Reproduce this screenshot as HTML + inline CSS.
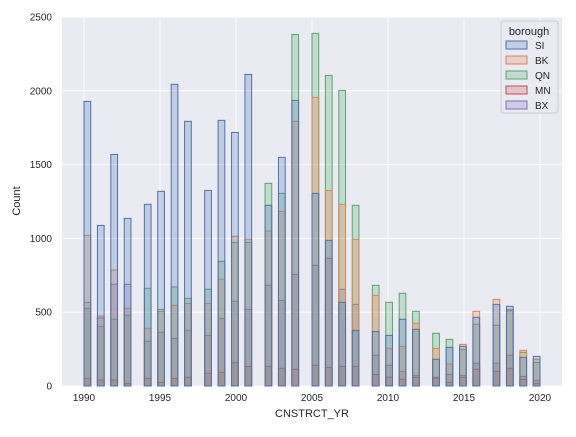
<!DOCTYPE html>
<html><head><meta charset="utf-8"><style>
body{margin:0;background:#fff;}
svg text{font-family:"Liberation Sans",Arial,sans-serif;fill:#262626;}
</style></head><body>
<svg id="chart" width="576" height="432" viewBox="0 0 576 432">
<rect x="62" y="17" width="500" height="369" fill="#eaeaf2"/>
<g id="grid"></g><g id="bars"></g><g id="axes"></g><g id="legend"></g>
</svg>
<script>
const years=[1990,1991,1992,1993,1994,1995,1996,1997,1998,1999,2000,2001,2002,2003,2004,2005,2006,2007,2008,2009,2010,2011,2012,2013,2014,2015,2016,2017,2018,2019,2020];
const boroughs=["SI","BK","QN","MN","BX"];
const colors=["#4c72b0","#dd8452","#55a868","#c44e52","#8172b3"];
const SI=[1928,1088,1569,1136,1231,1319,2044,1793,1325,1800,1718,2111,1224,1549,1935,1305,987,567,377,370,343,452,384,181,262,269,465,553,540,194,201];
const BK=[1021,474,786,526,391,506,546,560,560,723,1014,994,1050,1183,1793,1955,1325,1231,994,614,255,269,425,255,149,282,506,587,519,242,181];
const QN=[567,404,452,479,662,519,671,594,655,845,973,973,1373,1305,2382,2389,2104,2003,1224,682,567,628,506,357,316,248,418,411,510,228,160];
const MN=[52,41,41,18,52,25,52,59,86,93,160,133,133,120,113,140,126,133,133,79,59,45,59,52,25,59,113,99,120,45,18];
const BX=[526,461,689,689,303,364,323,377,343,458,574,519,682,580,756,817,865,655,553,208,140,99,72,59,79,72,154,154,208,65,38];
const yTicks=[0,500,1000,1500,2000,2500];
const xTicks=[1990,1995,2000,2005,2010,2015,2020];
const series=[SI,BK,QN,MN,BX];
const NS="http://www.w3.org/2000/svg";
const X0=84,PXY=15.2,Y0=386,PXV=369/2500,NB=68,BW=(30*PXY)/NB;
const xs=v=>X0+(v-1990)*PXY;
const ys=v=>Y0-v*PXV;
const binLeft=yr=>{let k=Math.floor((yr-1990)*NB/30+1e-9);if(k>NB-1)k=NB-1;return X0+k*BW;};
function mk(t,a,p){const e=document.createElementNS(NS,t);for(const k in a)e.setAttribute(k,a[k]);p.appendChild(e);return e;}
const grid=document.getElementById('grid'),axes=document.getElementById('axes'),bars=document.getElementById('bars'),leg=document.getElementById('legend');
yTicks.forEach(t=>{
 const l=mk('line',{x1:62,x2:562,y1:ys(t),y2:ys(t),stroke:'#fff','stroke-width':1},grid);
 
 
 const tx=mk('text',{x:52,y:ys(t)+3.5,'text-anchor':'end','font-size':10},axes);
 tx.textContent=t;
 
 
});
xTicks.forEach(t=>{
 const l=mk('line',{x1:xs(t),x2:xs(t),y1:17,y2:386,stroke:'#fff','stroke-width':1},grid);
 
 
 const tx=mk('text',{x:xs(t),y:401,'text-anchor':'middle','font-size':10},axes);
 tx.textContent=t;
 
 
});
for(let s=boroughs.length-1;s>=0;s--){
 const vals=series[s];
 years.forEach((yr,i)=>{
  const v=vals[i];
  const r=mk('rect',{x:binLeft(yr),y:ys(v),width:BW,height:Y0-ys(v),fill:colors[s],'fill-opacity':0.25,stroke:colors[s],'stroke-width':1},bars);
  
  
 });
}
let t=mk('text',{x:312,y:417,'text-anchor':'middle','font-size':11},axes);t.textContent='CNSTRCT_YR';


t=mk('text',{x:0,y:0,'text-anchor':'middle','font-size':11,transform:'translate(20,201) rotate(-90)'},axes);t.textContent='Count';


const box=mk('rect',{x:501,y:21,width:57,height:92,rx:3,fill:'#eaeaf2','fill-opacity':0.8,stroke:'#ccc','stroke-width':1},leg);


t=mk('text',{x:529,y:35,'text-anchor':'middle','font-size':11},leg);t.textContent='borough';


boroughs.forEach((b,i)=>{
 const y=48+i*15;
 const r=mk('rect',{x:506,y:y-7,width:21,height:8,fill:colors[i],'fill-opacity':0.25,stroke:colors[i],'stroke-width':1},leg);
 
 
 const tx=mk('text',{x:535,y:y+1,'font-size':10},leg);tx.textContent=b;
 
 
});
</script>
</body></html>
